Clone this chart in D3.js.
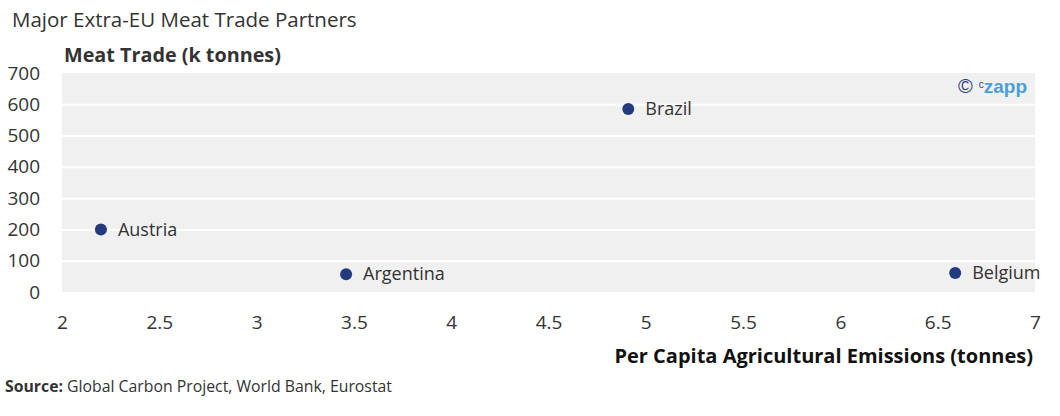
<!DOCTYPE html>
<html><head><meta charset="utf-8">
<script src="https://cdn.jsdelivr.net/npm/d3@7"></script>
<style>body{margin:0;background:#fff;font-family:"Open Sans",sans-serif;}</style>
</head><body><svg id="c" width="1060" height="416"></svg>
<script>
const countries = ["Austria","Argentina","Brazil","Belgium"];
const emissions = [2.2, 3.46, 4.91, 6.59];
const meatTrade = [200, 57, 585, 61];
const xTicks = [2,2.5,3,3.5,4,4.5,5,5.5,6,6.5,7];
const yTicks = [0,100,200,300,400,500,600,700];

const svg = d3.select("#c");
const m = {l:62, r:1035, t:73, b:292};
const x = d3.scaleLinear().domain([2,7]).range([m.l, m.r]);
const y = d3.scaleLinear().domain([0,700]).range([m.b, m.t]);

svg.append("rect").attr("x",m.l).attr("y",m.t).attr("width",m.r-m.l).attr("height",m.b-m.t).attr("fill","#f0f0f0");

const yAxis = d3.axisLeft(y).tickValues(yTicks).tickSize(-(m.r-m.l)).tickPadding(22);
const gy = svg.append("g").attr("transform",`translate(${m.l},0)`).call(yAxis);
gy.select(".domain").remove();
gy.selectAll("line").attr("stroke",d=> (d===0||d===700)?"none":"#fff").attr("stroke-width",2);
gy.selectAll("text").attr("font-family","Open Sans").attr("font-size",19).attr("fill","#333").attr("dy","0.32em");

const xAxis = d3.axisBottom(x).tickValues(xTicks).tickSize(0).tickPadding(24).tickFormat(d3.format("~g"));
const gx = svg.append("g").attr("transform",`translate(0,${m.b})`).call(xAxis);
gx.select(".domain").remove();
gx.selectAll("text").attr("font-family","Open Sans").attr("font-size",19).attr("fill","#333");

const data = countries.map((c,i)=>({c, e:emissions[i], t:meatTrade[i]}));
svg.selectAll("circle.pt").data(data).join("circle").attr("class","pt")
  .attr("cx",d=>x(d.e)).attr("cy",d=>y(d.t)).attr("r",6).attr("fill","#233a7e");
svg.selectAll("text.lbl").data(data).join("text").attr("class","lbl")
  .attr("x",d=>x(d.e)+17).attr("y",d=>y(d.t)).attr("dy","0.35em")
  .attr("font-size",18).attr("fill","#333").text(d=>d.c);

svg.append("text").attr("x",12).attr("y",27).attr("font-size",20.5).attr("font-weight",500).attr("fill","#333").text("Major Extra-EU Meat Trade Partners");
svg.append("text").attr("x",64).attr("y",62).attr("font-size",19.8).attr("font-weight",700).attr("fill","#333").text("Meat Trade (k tonnes)");
svg.append("text").attr("x",1033).attr("y",363).attr("text-anchor","end").attr("font-size",20).attr("font-weight",700).attr("fill","#111").text("Per Capita Agricultural Emissions (tonnes)");
const src = svg.append("text").attr("x",5).attr("y",392).attr("font-size",15.8).attr("fill","#333");
src.append("tspan").attr("font-weight",700).text("Source:");
src.append("tspan").text(" Global Carbon Project, World Bank, Eurostat");

const logo = svg.append("text").attr("x",1027).attr("y",93).attr("text-anchor","end").attr("font-family","Arial, Liberation Sans, sans-serif");
logo.append("tspan").attr("font-size",20).attr("fill","#2b3a80").text("©");
logo.append("tspan").attr("font-size",10).attr("fill","#2b3a80").attr("dx",6).attr("dy",-5).text("c");
logo.append("tspan").attr("font-size",19).attr("font-weight",700).attr("fill","#4a9fd9").attr("dy",5).text("zapp");
</script></body></html>
